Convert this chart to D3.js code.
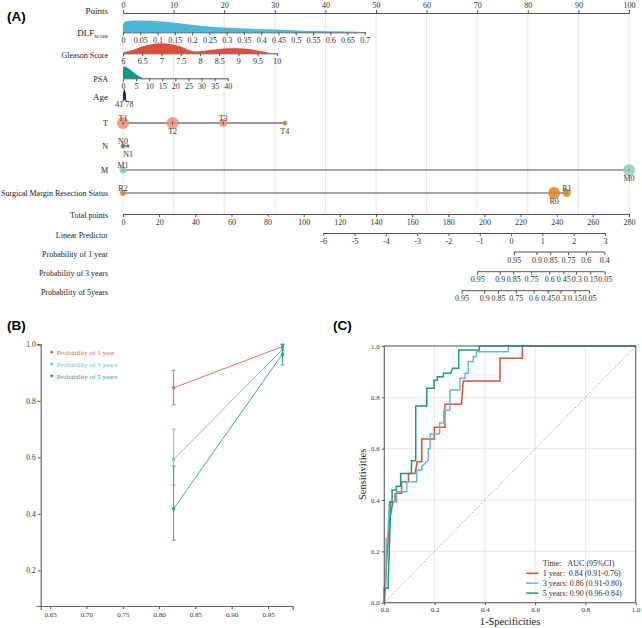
<!DOCTYPE html>
<html><head><meta charset="utf-8">
<script src="https://cdn.jsdelivr.net/npm/d3@7"></script>
<style>
body{margin:0;background:#fff}
svg{display:block}
text{font-family:"Liberation Serif","Times New Roman",serif}
</style>
</head><body>
<svg id="c" width="642" height="628"></svg>
<script>
// ================= DATA =================
// Panel A: nomogram
const pointsTicks = [0,10,20,30,40,50,60,70,80,90,100];
const dlfTicks = [0,0.05,0.1,0.15,0.2,0.25,0.3,0.35,0.4,0.45,0.5,0.55,0.6,0.65,0.7];
const dlfPointsRange = [0,47.8];
const dlfDensX = [0,0.005,0.02,0.05,0.08,0.1,0.13,0.18,0.23,0.28,0.33,0.42,0.52,0.6,0.7];
const dlfDensY = [0.6,0.9,0.98,1.0,0.98,0.94,0.88,0.71,0.54,0.43,0.34,0.26,0.14,0.09,0.03];
const gleasonTicks = [6,6.5,7,7.5,8,8.5,9,9.5,10];
const gleasonPointsRange = [0,30.4];
const gleasonDensX = [6,6.25,6.5,6.75,7,7.25,7.5,7.75,7.9,8,8.25,8.5,8.75,9,9.25,9.5,9.75,9.8];
const gleasonDensY = [0.07,0.33,0.67,0.9,1,0.9,0.67,0.27,0.17,0.2,0.33,0.43,0.5,0.5,0.43,0.27,0.07,0];
const psaTicks = [0,5,10,15,20,25,30,35,40];
const psaPointsRange = [0,20.7];
const psaDensX = [0,0.5,1,2,3,4,5,6,7,8,9];
const psaDensY = [0.9,1,0.97,0.86,0.71,0.51,0.34,0.2,0.09,0.03,0];
const ageTicks = [41,78];
const agePointsRange = [0,0.6];
const ageDensX = [41,46,52,58,64,70,78];
const ageDensY = [0.6,0.75,0.9,1,0.9,0.7,0.55];
const tCats = ["T1","T2","T3","T4"];
const tPoints = [0,9.8,19.8,32];
const tCounts = [144,144,64,25];
const tLabelPos = ["above","below","above","below"];
const nCats = ["N0","N1"];
const nPoints = [0,1];
const nCounts = [25,9];
const nLabelPos = ["above","below"];
const mCats = ["M1","M0"];
const mPoints = [0,100];
const mCounts = [49,144];
const mLabelPos = ["above","below"];
const rCats = ["R2","R0","R1"];
const rPoints = [0,85.2,87.7];
const rCounts = [36,144,64];
const rLabelPos = ["above","below","above"];
const totalTicks = [0,20,40,60,80,100,120,140,160,180,200,220,240,260,280];
const lpTicks = [-6,-5,-4,-3,-2,-1,0,1,2,3];
const lpTotalRange = [110.8,266.7];
const p1Labels = ["0.95","0.9","0.85","0.75","0.6","0.4"];
const p1LP = [0.09,0.81,1.25,1.82,2.39,2.98];
const p3Labels = ["0.95","0.9","0.85","0.75","0.6","0.45","0.3","0.15","0.05"];
const p3LP = [-1.08,-0.36,0.07,0.64,1.22,1.67,2.08,2.53,2.99];
const p5Labels = ["0.95","0.9","0.85","0.75","0.6","0.45","0.3","0.15","0.05"];
const p5LP = [-1.58,-0.86,-0.42,0.15,0.72,1.17,1.58,2.03,2.49];

// Panel B: calibration
const calX = [0.82,0.97];
const cal1 = [0.846,0.992], cal1Lo = [0.786,0.98], cal1Hi = [0.908,1.0];
const cal3 = [0.593,0.982], cal3Lo = [0.502,0.96], cal3Hi = [0.70,1.0];
const cal5 = [0.418,0.966], cal5Lo = [0.307,0.927], cal5Hi = [0.569,1.0];
const calXTicks = [0.65,0.70,0.75,0.80,0.85,0.90,0.95];
const calYTicks = [0.2,0.4,0.6,0.8,1.0];
const calNames = ["Probability of 1 year","Probability of 3 years","Probability of 5 years"];

// Panel C: ROC curves [fpr, tpr]
const roc1 = [[0,0],[0.004,0.06],[0.01,0.17],[0.02,0.31],[0.028,0.36],[0.035,0.393],[0.043,0.393],[0.043,0.426],[0.069,0.426],[0.069,0.471],[0.096,0.471],[0.096,0.503],[0.122,0.503],[0.131,0.549],[0.149,0.549],[0.149,0.638],[0.199,0.638],[0.199,0.683],[0.241,0.683],[0.241,0.773],[0.307,0.773],[0.314,0.864],[0.46,0.864],[0.46,0.952],[0.549,0.952],[0.549,1],[1,1]];
const roc3 = [[0,0],[0,0.06],[0.005,0.06],[0.008,0.25],[0.013,0.25],[0.02,0.393],[0.049,0.393],[0.049,0.432],[0.089,0.432],[0.089,0.471],[0.129,0.471],[0.129,0.517],[0.149,0.517],[0.149,0.53],[0.175,0.556],[0.175,0.6],[0.182,0.6],[0.182,0.657],[0.22,0.657],[0.22,0.7],[0.237,0.7],[0.237,0.75],[0.261,0.75],[0.261,0.829],[0.301,0.829],[0.301,0.874],[0.321,0.874],[0.321,0.894],[0.334,0.894],[0.334,0.939],[0.354,0.939],[0.354,0.958],[0.367,0.958],[0.367,0.978],[0.493,0.978],[0.493,1],[1,1]];
const roc5 = [[0,0],[0,0.056],[0.016,0.056],[0.016,0.095],[0.023,0.30],[0.025,0.393],[0.031,0.393],[0.031,0.439],[0.048,0.439],[0.048,0.454],[0.065,0.454],[0.065,0.503],[0.108,0.503],[0.108,0.553],[0.125,0.553],[0.125,0.766],[0.169,0.766],[0.169,0.835],[0.198,0.835],[0.198,0.867],[0.211,0.867],[0.211,0.88],[0.235,0.88],[0.235,0.894],[0.264,0.894],[0.272,0.913],[0.296,0.913],[0.296,0.984],[0.378,0.984],[0.378,1],[1,1]];
const rocTicks = [0,0.2,0.4,0.6,0.8,1.0];
const rocLegendHead = "Time:\u00A0\u00A0\u00A0AUC (95%CI)";
const rocLegend = ["1 year:\u00A0\u00A00.84 (0.91-0.76)","3 years: 0.86 (0.91-0.80)","5 years: 0.90 (0.96-0.84)"];

// ================= DRAW =================
const svg = d3.select("#c");
const C_RED = "#E64B35", C_BLUE = "#4DBBD5", C_GREEN = "#00A087";
const AX = "#555";
const plain = d => String(d);

function styleAxis(g, fs){
  g.attr("font-family",null).attr("font-size",null);
  g.selectAll("path.domain").attr("stroke",AX);
  g.selectAll(".tick line").attr("stroke",AX);
  g.selectAll("text").attr("font-size",fs).attr("fill","#333")
    .style("font-family","'Liberation Serif',serif");
}

// ---------- Panel A ----------
svg.append("text").attr("x",7).attr("y",21).text("(A)")
  .style("font-family","'Liberation Sans',Arial,sans-serif").attr("font-weight","bold").attr("font-size",13.5);

const px = d3.scaleLinear().domain([0,100]).range([123,629]);
const tpx = d3.scaleLinear().domain([0,280]).range([123,629]);

// gridlines
svg.append("g").selectAll("line").data(pointsTicks).join("line")
  .attr("x1",d=>px(d)).attr("x2",d=>px(d)).attr("y1",13).attr("y2",214)
  .attr("stroke","#e6e6e6").attr("stroke-width",1);

const LABEL_X = 108;
function rowLabel(text, cy, fs){
  return svg.append("text").attr("x",LABEL_X).attr("y",cy+fs*0.33)
    .attr("text-anchor","end").attr("font-size",fs).attr("fill","#222").text(text);
}

// Points axis
const gPts = svg.append("g").attr("transform","translate(0,13)")
  .call(d3.axisTop(px).tickValues(pointsTicks).tickSize(3).tickSizeOuter(0).tickPadding(2).tickFormat(plain));
styleAxis(gPts,8);
rowLabel("Points",11,9);

// continuous variables with density
function contRow(ticks, ptsRange, densX, densY, y, maxH, color, fmt){
  const s = d3.scaleLinear().domain([ticks[0],ticks[ticks.length-1]]).range([px(ptsRange[0]),px(ptsRange[1])]);
  const area = d3.area().x((d,i)=>s(densX[i])).y0(y).y1((d,i)=>y-densY[i]*maxH).curve(d3.curveMonotoneX);
  svg.append("path").datum(densX).attr("d",area).attr("fill",color).attr("stroke","none");
  const g = svg.append("g").attr("transform",`translate(0,${y})`)
    .call(d3.axisBottom(s).tickValues(ticks).tickSize(3).tickSizeOuter(0).tickPadding(2).tickFormat(fmt));
  styleAxis(g,8);
  return g;
}
contRow(dlfTicks,dlfPointsRange,dlfDensX,dlfDensY,32.3,11.7,"#4BB8D9",d=>String(+d.toFixed(2)));
const dl = svg.append("text").attr("x",LABEL_X).attr("y",33+2.8).attr("text-anchor","end").attr("font-size",9).attr("fill","#222");
dl.append("tspan").text("DLF");
dl.append("tspan").attr("font-size",6.5).attr("dy",2).text("score");

contRow(gleasonTicks,gleasonPointsRange,gleasonDensX,gleasonDensY,53.3,10,C_RED,plain);
rowLabel("Gleason Score",55,8);
contRow(psaTicks,psaPointsRange,psaDensX,psaDensY,78.3,11.7,C_GREEN,plain);
rowLabel("PSA",79,8);

// Age (tiny range)
{
  const s = d3.scaleLinear().domain([ageTicks[0],ageTicks[1]]).range([px(agePointsRange[0]),px(agePointsRange[1])]);
  const y = 100;
  const area = d3.area().x((d,i)=>s(ageDensX[i])).y0(y).y1((d,i)=>y-ageDensY[i]*11).curve(d3.curveMonotoneX);
  svg.append("path").datum(ageDensX).attr("d",area).attr("fill","#1b2850");
  svg.append("line").attr("x1",s(41)).attr("x2",s(78)).attr("y1",y).attr("y2",y).attr("stroke",AX);
  svg.selectAll(".agetk").data(ageTicks).join("line").attr("class","agetk")
    .attr("x1",d=>s(d)).attr("x2",d=>s(d)).attr("y1",y).attr("y2",y+2).attr("stroke",AX);
  svg.selectAll(".agelb").data(ageTicks).join("text").attr("class","agelb")
    .attr("x",(d,i)=>s(d)+(i===0?0.3:-0.5)).attr("y",y+7.2)
    .attr("text-anchor",(d,i)=>i===0?"end":"start").attr("font-size",8).attr("fill","#333").text(d=>d);
  rowLabel("Age",97,9);
}

// categorical rows
const rScale = d3.scaleSqrt().domain([0,144]).range([0,6]);
function catRow(name, cats, pts, counts, pos, y, color, lineColor, lineW){
  svg.append("line").attr("x1",px(d3.min(pts))).attr("x2",px(d3.max(pts))).attr("y1",y).attr("y2",y)
    .attr("stroke",lineColor).attr("stroke-width",lineW);
  svg.append("g").selectAll("circle").data(cats).join("circle")
    .attr("cx",(d,i)=>px(pts[i])).attr("cy",y).attr("r",(d,i)=>rScale(counts[i]))
    .attr("fill",color).attr("fill-opacity",0.9);
  svg.append("g").selectAll("line").data(cats).join("line")
    .attr("x1",(d,i)=>px(pts[i])).attr("x2",(d,i)=>px(pts[i])).attr("y1",y-1.5).attr("y2",y+1.5)
    .attr("stroke",lineColor).attr("stroke-width",0.8);
  svg.append("g").selectAll("text").data(cats).join("text")
    .attr("x",(d,i)=>px(pts[i])).attr("y",(d,i)=>pos[i]==="above"?y-2.5:y+10.5)
    .attr("text-anchor","middle").attr("font-size",8).attr("fill","#333").text(d=>d);
  rowLabel(name,y,8);
}
catRow("T",tCats,tPoints,tCounts,tLabelPos,123,"#F0957D","#333",1);
catRow("N",nCats,nPoints,nCounts,nLabelPos,146,"#7F8DB4","#333",1);
catRow("M",mCats,mPoints,mCounts,mLabelPos,170,"#8FD0BF","#8a8a8a",1.3);
catRow("Surgical Margin Resection Status",rCats,rPoints,rCounts,rLabelPos,193,"#E0892A","#8a8a8a",1.3);

// Total points
const gTot = svg.append("g").attr("transform","translate(0,214)")
  .call(d3.axisBottom(tpx).tickValues(totalTicks).tickSize(3).tickSizeOuter(0).tickPadding(2).tickFormat(plain));
styleAxis(gTot,8);
rowLabel("Total points",215.5,8);

// Linear predictor and probabilities
const lpx = d3.scaleLinear().domain([lpTicks[0],lpTicks[lpTicks.length-1]]).range([tpx(lpTotalRange[0]),tpx(lpTotalRange[1])]);
const gLP = svg.append("g").attr("transform","translate(0,233)")
  .call(d3.axisBottom(lpx).tickValues(lpTicks).tickSize(3).tickSizeOuter(0).tickPadding(2).tickFormat(plain));
styleAxis(gLP,8);
rowLabel("Linear Predictor",235,8);

function probRow(name, lps, labels, y, cy){
  const g = svg.append("g").attr("transform",`translate(0,${y})`);
  g.append("line").attr("x1",lpx(d3.min(lps))).attr("x2",lpx(d3.max(lps))).attr("stroke",AX);
  g.call(d3.axisBottom(lpx).tickValues(lps).tickSize(3).tickSizeOuter(0).tickPadding(2).tickFormat((d,i)=>labels[i]));
  g.select("path.domain").remove();
  styleAxis(g,8);
  rowLabel(name,cy,8);
}
probRow("Probability of 1 year",p1LP,p1Labels,252,254);
probRow("Probability of 3 years",p3LP,p3Labels,271.7,273);
probRow("Probability of 5years",p5LP,p5Labels,290.7,292.7);

// ---------- Panel B ----------
svg.append("text").attr("x",7).attr("y",330).text("(B)")
  .style("font-family","'Liberation Sans',Arial,sans-serif").attr("font-weight","bold").attr("font-size",13.5);
const bx = d3.scaleLinear().domain([0.637,0.984]).range([40.7,292.7]);
const by = d3.scaleLinear().domain([0.074,1.0]).range([606,344.3]);
const gBx = svg.append("g").attr("transform","translate(0,606)")
  .call(d3.axisBottom(bx).tickValues(calXTicks).tickSize(3).tickSizeOuter(4).tickPadding(3).tickFormat(d3.format(".2f")));
styleAxis(gBx,7);
gBx.selectAll("path.domain").attr("stroke","#666").attr("stroke-width",1.2);
const gBy = svg.append("g").attr("transform","translate(40.7,0)")
  .call(d3.axisLeft(by).tickValues(calYTicks).tickSize(3).tickSizeOuter(4).tickPadding(2).tickFormat(d3.format(".1f")));
styleAxis(gBy,7.5);
gBy.selectAll("path.domain").attr("stroke","#666").attr("stroke-width",1.2);

const calSeries = [
  {v:cal1,lo:cal1Lo,hi:cal1Hi,c:"#E8604C"},
  {v:cal3,lo:cal3Lo,hi:cal3Hi,c:"#5FC0D8"},
  {v:cal5,lo:cal5Lo,hi:cal5Hi,c:"#1EA38C"}
];
calSeries.forEach(s=>{
  const g = svg.append("g");
  g.append("path").datum(calX).attr("d",d3.line().x(d=>bx(d)).y((d,i)=>by(s.v[i])))
    .attr("fill","none").attr("stroke",s.c).attr("stroke-width",0.9);
  calX.forEach((x,i)=>{
    g.append("line").attr("x1",bx(x)).attr("x2",bx(x)).attr("y1",by(s.lo[i])).attr("y2",by(s.hi[i])).attr("stroke",s.c).attr("stroke-width",0.9);
    [s.lo[i],s.hi[i]].forEach(v=>g.append("line").attr("x1",bx(x)-2).attr("x2",bx(x)+2).attr("y1",by(v)).attr("y2",by(v)).attr("stroke",s.c).attr("stroke-width",0.9));
    g.append("rect").attr("x",bx(x)-1.4).attr("y",by(s.v[i])-1.4).attr("width",2.8).attr("height",2.8).attr("fill",s.c);
  });
});
const legB = svg.append("g");
calNames.forEach((n,i)=>{
  const cy = 352.7 + i*11.8;
  legB.append("circle").attr("cx",51.7).attr("cy",cy-0.5).attr("r",1.4).attr("fill",calSeries[i].c);
  legB.append("text").attr("x",56.7).attr("y",cy+2.3).attr("font-size",7).attr("fill",calSeries[i].c).text(n);
});

// ---------- Panel C ----------
svg.append("text").attr("x",333).attr("y",330).text("(C)")
  .style("font-family","'Liberation Sans',Arial,sans-serif").attr("font-weight","bold").attr("font-size",13.5);
const cx = d3.scaleLinear().domain([0,1]).range([384.3,635.7]);
const cy = d3.scaleLinear().domain([0,1]).range([602.7,346]);
const gGrid = svg.append("g");
rocTicks.forEach(t=>{
  gGrid.append("line").attr("x1",cx(t)).attr("x2",cx(t)).attr("y1",cy(0)).attr("y2",cy(1)).attr("stroke","#e8e8e8");
  gGrid.append("line").attr("y1",cy(t)).attr("y2",cy(t)).attr("x1",cx(0)).attr("x2",cx(1)).attr("stroke","#e8e8e8");
});
svg.append("line").attr("x1",cx(0)).attr("y1",cy(0)).attr("x2",cx(1)).attr("y2",cy(1))
  .attr("stroke","#777").attr("stroke-dasharray","1,2").attr("stroke-width",0.9);
const rocLine = d3.line().x(d=>cx(d[0])).y(d=>cy(d[1]));
[[roc1,C_RED],[roc3,"#5FBED6"],[roc5,"#1B9A80"]].forEach(([d,c])=>{
  svg.append("path").datum(d).attr("d",rocLine).attr("fill","none").attr("stroke",c).attr("stroke-width",1.5);
});
svg.append("rect").attr("x",cx(0)).attr("y",cy(1)).attr("width",cx(1)-cx(0)).attr("height",cy(0)-cy(1))
  .attr("fill","none").attr("stroke","#666").attr("stroke-width",1.1);
const gCx = svg.append("g").attr("transform",`translate(0,${cy(0)})`)
  .call(d3.axisBottom(cx).tickValues(rocTicks).tickSize(2.5).tickSizeOuter(0).tickPadding(2).tickFormat(d3.format(".1f")));
gCx.select("path.domain").remove();
styleAxis(gCx,7);
const gCy = svg.append("g").attr("transform",`translate(${cx(0)},0)`)
  .call(d3.axisLeft(cy).tickValues(rocTicks).tickSize(2.5).tickSizeOuter(0).tickPadding(2).tickFormat(d3.format(".1f")));
gCy.select("path.domain").remove();
styleAxis(gCy,7);
svg.append("text").attr("x",(cx(0)+cx(1))/2).attr("y",624.5).attr("text-anchor","middle").attr("font-size",10.5).attr("fill","#222").text("1-Specificities");
svg.append("text").attr("transform",`translate(366,${(cy(0)+cy(1))/2}) rotate(-90)`).attr("text-anchor","middle").attr("font-size",10.5).attr("fill","#222").text("Sensitivities");

const legC = svg.append("g");
legC.append("text").attr("x",542.7).attr("y",566).attr("font-size",8).attr("fill","#333").text(rocLegendHead);
const legCols = [C_RED,"#5FBED6","#1B9A80"];
rocLegend.forEach((t,i)=>{
  const yy = 573.3 + i*9.9;
  legC.append("line").attr("x1",526).attr("x2",538.3).attr("y1",yy).attr("y2",yy).attr("stroke",legCols[i]).attr("stroke-width",1.5);
  legC.append("text").attr("x",542.7).attr("y",yy+2.7).attr("font-size",8).attr("fill","#333").text(t);
});
</script>
</body></html>
